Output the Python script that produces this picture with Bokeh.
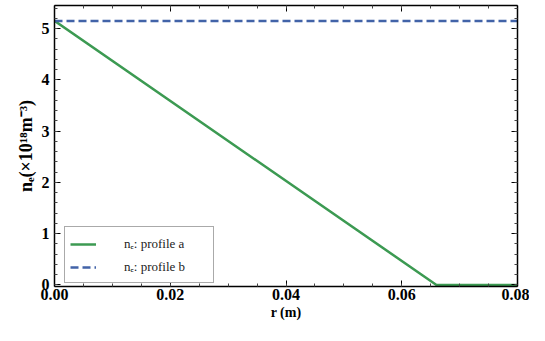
from bokeh.plotting import figure
from bokeh.models import LinearAxis, Range1d, Legend, LegendItem, FixedTicker
from bokeh.embed import file_html
from bokeh.resources import INLINE

# data
r_a = [0.0, 0.066, 0.08]
ne_a = [5.15, 0.0, 0.0]
r_b = [0.0, 0.08]
ne_b = [5.15, 5.15]
x_ticks = [0.0, 0.02, 0.04, 0.06, 0.08]
x_labels = ["0.00", "0.02", "0.04", "0.06", "0.08"]
y_ticks = [0, 1, 2, 3, 4, 5]
series_labels = ["nₑ: profile a", "nₑ: profile b"]

FONT = "Liberation Serif"
GREEN = "#3c9a52"
BLUE = "#4263a8"

p = figure(width=529, height=325, output_backend="svg", toolbar_location=None,
           x_range=Range1d(0, 0.08), y_range=Range1d(-0.03, 5.45),
           x_axis_location=None, y_axis_location=None,
           min_border_left=54, min_border_right=12, min_border_top=5, min_border_bottom=39)
p.grid.visible = False
p.outline_line_color = None
p.background_fill_color = "white"

x_minor = [i * 0.005 for i in range(17)]
y_minor = [i * 0.2 for i in range(28)]

def style(ax, labels=True):
    ax.axis_line_color = "black"
    ax.axis_line_width = 1.5
    ax.major_tick_in = 6
    ax.major_tick_out = 0
    ax.minor_tick_in = 3
    ax.minor_tick_out = 0
    ax.major_tick_line_color = "black"
    ax.minor_tick_line_color = "#444444"
    ax.major_tick_line_width = 1
    ax.minor_tick_line_width = 1
    ax.major_label_text_font = FONT
    ax.major_label_text_font_style = "bold"
    ax.major_label_text_font_size = "16px"
    ax.major_label_text_color = "black"
    ax.axis_label_text_font = FONT
    ax.axis_label_text_font_style = "bold"
    ax.axis_label_text_font_size = "14px"
    ax.axis_label_text_color = "black"
    if not labels:
        ax.major_label_text_font_size = "0px"
        ax.major_label_text_color = None

xb = LinearAxis(ticker=FixedTicker(ticks=x_ticks, minor_ticks=x_minor), axis_label="r (m)")
xb.major_label_overrides = {t: l for t, l in zip(x_ticks, x_labels)}
style(xb)
xb.major_label_standoff = 2
xb.axis_label_standoff = 2
p.add_layout(xb, "below")

xt = LinearAxis(ticker=FixedTicker(ticks=x_ticks, minor_ticks=x_minor))
style(xt, labels=False)
xt.major_label_standoff = 0
p.add_layout(xt, "above")

yl = LinearAxis(ticker=FixedTicker(ticks=y_ticks, minor_ticks=y_minor),
                axis_label="nₑ(×10¹⁸m⁻³)")
style(yl)
yl.axis_label_text_font_size = "18px"
yl.major_label_standoff = 5
yl.axis_label_standoff = 3
p.add_layout(yl, "left")

yr = LinearAxis(ticker=FixedTicker(ticks=y_ticks, minor_ticks=y_minor))
style(yr, labels=False)
yr.major_label_standoff = 0
p.add_layout(yr, "right")

la = p.line(r_a, ne_a, line_color=GREEN, line_width=2.5)
lb = p.line(r_b, ne_b, line_color=BLUE, line_width=2.5, line_dash="8 4")

legend = Legend(items=[LegendItem(label=series_labels[0], renderers=[la]),
                       LegendItem(label=series_labels[1], renderers=[lb])],
                location=(10, 3))
legend.label_text_font = FONT
legend.label_text_font_size = "13px"
legend.label_text_color = "#222222"
legend.glyph_width = 26
legend.glyph_height = 20
legend.label_height = 20
legend.label_standoff = 28
legend.spacing = 3
legend.padding = 5
legend.margin = 0
legend.border_line_color = "#555555"
legend.border_line_width = 1.5
legend.background_fill_alpha = 1
# invisible spacer title widens the box like the reference legend frame
legend.title = "\u2003" * 69
legend.title_text_font_size = "2px"
legend.title_standoff = 0
p.add_layout(legend, "center")

open("out.html", "w").write(file_html(p, INLINE))
